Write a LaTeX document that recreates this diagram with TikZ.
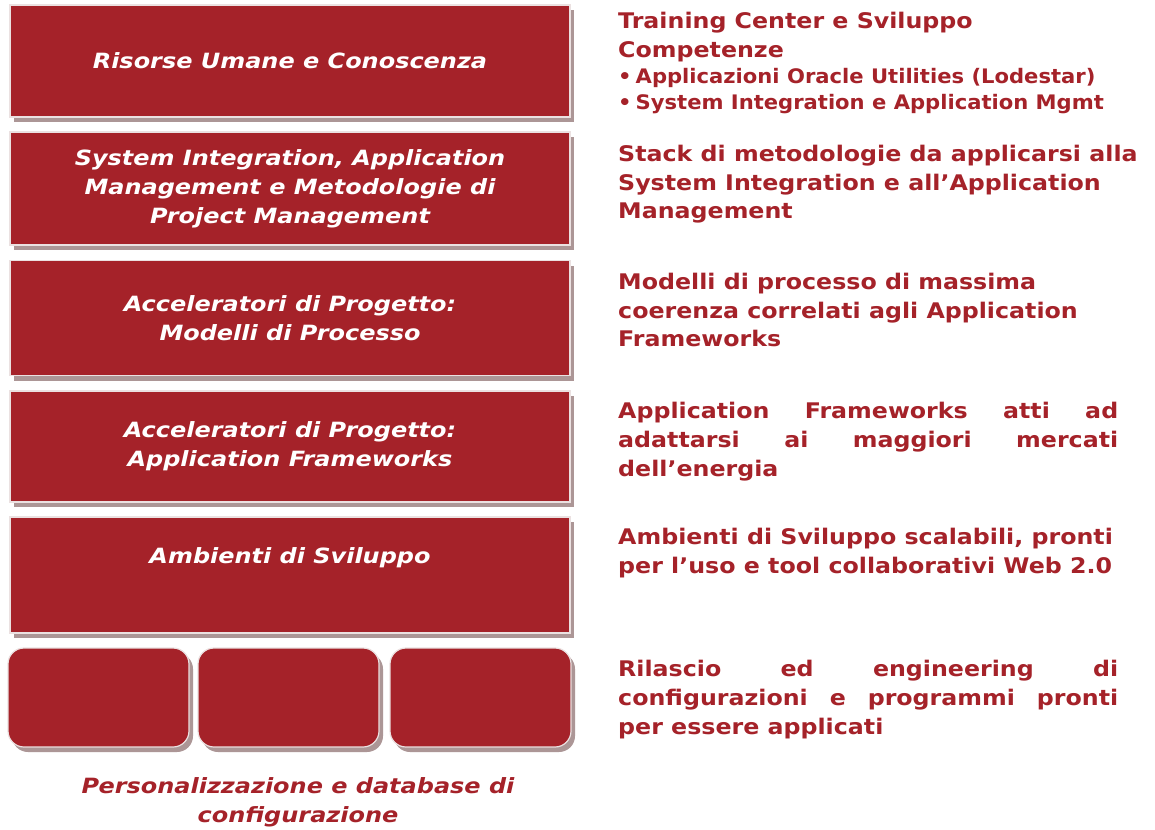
\documentclass[tikz,border=0pt]{standalone}
\usepackage{fontspec}
\setmainfont{DejaVu Sans}
\newfontfamily\descfont[FakeStretch=1.103]{DejaVu Sans}
\newfontfamily\boxfont[FakeStretch=1.141]{DejaVu Sans}
\newfontfamily\bulfont[FakeStretch=1.055]{DejaVu Sans}
\usetikzlibrary{shadows}
\definecolor{boxred}{RGB}{165,34,41}
\definecolor{shadowc}{RGB}{172,150,150}
\definecolor{edgec}{RGB}{235,225,225}
\begin{document}
\begin{tikzpicture}[x=1pt,y=-1pt,
  layer/.style={fill=boxred, draw=edgec, line width=1.2pt, inner sep=0pt,
    drop shadow={shadow xshift=4pt, shadow yshift=-5pt, fill=shadowc, opacity=1},
    text=white, font=\boxfont\fontsize{21}{29}\selectfont\bfseries\itshape, align=center},
  rlayer/.style={layer, rounded corners=16pt, minimum width=181pt, minimum height=99pt},
  desc/.style={anchor=base west, inner sep=0pt, text=boxred, font=\descfont\fontsize{21.5}{29}\selectfont\bfseries},
  bul/.style={anchor=base west, inner sep=0pt, text=boxred, font=\bulfont\fontsize{20}{26}\selectfont\bfseries}
]
\useasboundingbox (0,0) rectangle (1155,829);
\fill[white] (0,0) rectangle (1155,829);

\node[layer, minimum width=560pt, minimum height=112pt] (b1) at (290,61) {Risorse Umane e Conoscenza};
\node[layer, minimum width=560pt, minimum height=113pt] (b2) at (290,188.5) {System Integration, Application\\Management e Metodologie di\\Project Management};
\node[layer, minimum width=560pt, minimum height=115pt] (b3) at (290,318) {Acceleratori di Progetto:\\Modelli di Processo};
\node[layer, minimum width=560pt, minimum height=111pt] (b4) at (290,446.5) {Acceleratori di Progetto:\\Application Frameworks};
\node[layer, minimum width=560pt, minimum height=116pt, text depth=38pt] (b5) at (290,575) {Ambienti di Sviluppo};

\node[rlayer] (r1) at (98.5,697.5) {};
\node[rlayer] (r2) at (288.5,697.5) {};
\node[rlayer] (r3) at (480.5,697.5) {};

\node[inner sep=0pt, text=boxred, font=\boxfont\fontsize{21}{29}\selectfont\bfseries\itshape, align=center] (cap) at (298,802.5) {Personalizzazione e database di\\configurazione};

\node[desc] (t1a) at (618,29) {Training Center e Sviluppo};
\node[desc] (t1b) at (618,58) {Competenze};
\node[bul] (t1c) at (618,84) {•\kern4pt Applicazioni Oracle Utilities (Lodestar)};
\node[bul] (t1d) at (618,110) {•\kern4pt System Integration e Application Mgmt};

\node[desc] (t2a) at (618,161) {Stack di metodologie da applicarsi alla};
\node[desc] (t2b) at (618,190) {System Integration e all’Application};
\node[desc] (t2c) at (618,218) {Management};

\node[desc] (t3a) at (618,289) {Modelli di processo di massima};
\node[desc] (t3b) at (618,318) {coerenza correlati agli Application};
\node[desc] (t3c) at (618,346) {Frameworks};

\node[desc] (t4a) at (618,418) {\makebox[500pt][s]{Application Frameworks atti ad}};
\node[desc] (t4b) at (618,447) {\makebox[500pt][s]{adattarsi ai maggiori mercati}};
\node[desc] (t4c) at (618,476) {dell’energia};

\node[desc] (t5a) at (618,544) {Ambienti di Sviluppo scalabili, pronti};
\node[desc] (t5b) at (618,573) {per l’uso e tool collaborativi Web 2.0};

\node[desc] (t6a) at (618,676) {\makebox[500pt][s]{Rilascio ed engineering di}};
\node[desc] (t6b) at (618,705) {\makebox[500pt][s]{configurazioni e programmi pronti}};
\node[desc] (t6c) at (618,734) {per essere applicati};
\end{tikzpicture}
\end{document}
